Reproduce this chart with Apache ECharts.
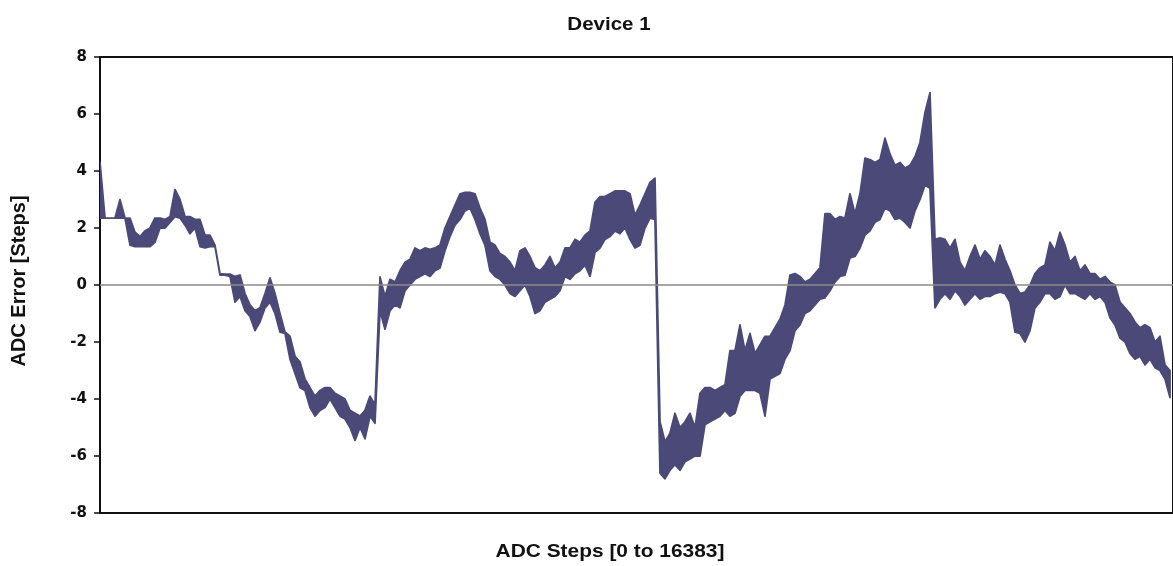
<!DOCTYPE html>
<html>
<head>
<meta charset="utf-8">
<title>Device 1</title>
<script src="https://cdn.jsdelivr.net/npm/echarts@6/dist/echarts.min.js"></script>
<style>
  html, body { margin: 0; padding: 0; background: #ffffff; }
  #chart { width: 1173px; height: 566px; }
</style>
</head>
<body>
<div id="chart"></div>
<script>
// ADC error trace for Device 1, stored as the upper / lower extent of the
// noisy error band at evenly spaced code positions across the full range.
const TITLE = 'Device 1';
const X_NAME = 'ADC Steps [0 to 16383]';
const Y_NAME = 'ADC Error [Steps]';
const CODE_MAX = 16383;
const Y_MIN = -8, Y_MAX = 8, Y_STEP = 2;

// upper edge of the error band (steps)
const ERR_HI = [
  4.3, 2.35, 2.35, 2.35, 3.0, 2.35, 2.35, 1.85, 1.7, 1.9,
  2.0, 2.35, 2.35, 2.3, 2.4, 3.35, 3.0, 2.4, 2.4, 2.3,
  2.3, 1.75, 1.75, 1.4, 0.4, 0.38, 0.38, 0.3, 0.35, -0.3,
  -0.7, -0.9, -0.8, -0.3, 0.25, -0.3, -1.0, -1.65, -1.8, -2.5,
  -2.7, -3.3, -3.6, -3.9, -3.7, -3.6, -3.6, -3.8, -3.9, -4.0,
  -4.4, -4.5, -4.6, -4.4, -3.9, -4.2, 0.28, -0.4, 0.2, 0.1,
  0.5, 0.8, 0.9, 1.3, 1.2, 1.3, 1.25, 1.3, 1.4, 2.0,
  2.4, 2.8, 3.2, 3.25, 3.25, 3.2, 2.7, 2.3, 1.5, 1.4,
  1.1, 1.0, 0.8, 0.5, 1.2, 1.3, 1.0, 0.6, 0.5, 0.7,
  1.0, 0.6, 0.8, 1.3, 1.3, 1.6, 1.5, 1.75, 1.9, 2.9,
  3.1, 3.1, 3.2, 3.3, 3.3, 3.3, 3.2, 2.45, 2.8, 3.2,
  3.6, 3.75, -4.8, -5.5, -5.2, -4.5, -5.0, -4.8, -4.5, -5.0,
  -3.8, -3.6, -3.6, -3.7, -3.6, -3.5, -2.3, -2.3, -1.4, -2.3,
  -1.7, -2.4, -2.1, -1.8, -1.8, -1.5, -1.2, -0.7, 0.35, 0.4,
  0.3, 0.1, 0.2, 0.4, 0.6, 2.5, 2.5, 2.3, 2.4, 2.35,
  3.2, 2.5, 3.2, 4.45, 4.4, 4.3, 4.4, 5.15, 4.6, 4.2,
  4.3, 4.1, 4.2, 4.5, 5.0, 6.05, 6.75, 1.6, 1.65, 1.6,
  1.3, 1.6, 0.8, 0.5, 1.0, 1.4, 0.9, 1.2, 1.0, 0.7,
  1.4, 0.9, 0.5, 0.0, -0.3, -0.25, 0.0, 0.4, 0.6, 0.7,
  1.5, 1.2, 1.85, 1.4, 0.8, 1.0, 0.5, 0.7, 0.4, 0.4,
  0.2, 0.3, 0.1, 0.0, -0.6, -0.8, -1.0, -1.3, -1.5, -1.4,
  -1.5, -2.0, -1.8, -2.8, -3.0
];

// lower edge of the error band (steps)
const ERR_LO = [
  2.35, 2.35, 2.35, 2.35, 2.35, 2.35, 1.4, 1.35, 1.35, 1.35,
  1.35, 1.5, 2.0, 2.0, 2.2, 2.4, 2.35, 2.1, 1.8, 2.0,
  1.35, 1.3, 1.35, 1.35, 0.35, 0.35, 0.3, -0.6, -0.4, -0.9,
  -1.1, -1.6, -1.3, -0.8, -0.6, -1.0, -1.65, -1.7, -2.6, -3.1,
  -3.6, -3.7, -4.3, -4.6, -4.4, -4.3, -4.0, -4.3, -4.6, -4.7,
  -5.0, -5.45, -5.0, -5.4, -4.6, -4.85, -0.9, -1.55, -0.9, -0.7,
  -0.8, -0.2, 0.0, 0.2, 0.3, 0.4, 0.3, 0.5, 0.6, 1.2,
  1.7, 2.1, 2.3, 2.6, 2.7, 2.3, 1.8, 1.4, 0.5, 0.3,
  0.2, 0.0, -0.3, -0.4, -0.2, 0.0, -0.4, -1.0, -0.9, -0.6,
  -0.5, -0.4, -0.2, 0.3, 0.2, 0.4, 0.5, 0.7, 0.3, 1.15,
  1.3, 1.6, 1.7, 1.9, 1.8, 2.0, 1.6, 1.3, 1.4, 2.0,
  2.35, 2.3, -6.6, -6.8, -6.5, -6.3, -6.5, -6.2, -6.1, -6.0,
  -6.0, -4.9, -4.8, -4.7, -4.6, -4.4, -4.6, -4.5, -3.9, -3.7,
  -3.7, -3.7, -3.8, -4.6, -3.3, -3.2, -3.1, -2.6, -2.3, -1.6,
  -1.4, -1.0, -0.9, -0.7, -0.5, -0.45, -0.2, 0.1, 0.3, 0.35,
  0.95, 1.0, 1.3, 1.75, 1.9, 2.2, 2.3, 2.7, 2.6, 2.3,
  2.35, 2.2, 2.0, 2.6, 3.0, 3.5, 3.4, -0.8, -0.5, -0.3,
  -0.5, -0.2, -0.4, -0.7, -0.5, -0.3, -0.5, -0.4, -0.4, -0.3,
  -0.25, -0.3, -0.6, -1.65, -1.7, -2.0, -1.6, -0.8, -0.6, -0.3,
  -0.3, -0.5, -0.4, 0.0, -0.3, -0.3, -0.4, -0.5, -0.3, -0.5,
  -0.4, -0.6, -1.15, -1.4, -1.86, -2.0, -2.4, -2.6, -2.5, -2.8,
  -2.6, -2.9, -3.0, -3.3, -3.95
];

// spacing between band samples, in ADC codes
const SAMPLE_STEP = 76.34;
const codes = ERR_HI.map((_, i) => i * SAMPLE_STEP);

const TRACE_COLOR = '#4b4978';
const FONT = '"Liberation Sans", Arial, Helvetica, sans-serif';
const chart = echarts.init(document.getElementById('chart'), null, { renderer: 'canvas' });

// the band is one closed outline: along the upper edge, back along the lower edge
function renderBand(params, api) {
  if (params.dataIndex !== 0) return null;
  const upper = [], lower = [];
  for (let i = 0; i < codes.length; i++) {
    upper.push(api.coord([codes[i], ERR_HI[i]]));
    lower.push(api.coord([codes[i], ERR_LO[i]]));
  }
  return {
    type: 'polygon',
    shape: { points: upper.concat(lower.reverse()) },
    style: { fill: TRACE_COLOR, stroke: TRACE_COLOR, lineWidth: 1.8, lineJoin: 'round' }
  };
}

chart.setOption({
  animation: false,
  backgroundColor: '#ffffff',
  grid: {
    left: 100, right: -4, top: 57, bottom: 53,
    show: true, borderColor: '#111111', borderWidth: 2, backgroundColor: 'transparent'
  },
  xAxis: {
    type: 'value', min: 0, max: CODE_MAX,
    axisLine: { show: false }, axisTick: { show: false },
    axisLabel: { show: false }, splitLine: { show: false }
  },
  yAxis: {
    type: 'value', min: Y_MIN, max: Y_MAX, interval: Y_STEP,
    axisLine: { show: false },
    axisTick: { show: true, inside: false, length: 6, lineStyle: { color: '#111111', width: 1.5 } },
    axisLabel: { show: true, margin: 13, color: '#111111', fontFamily: '"DejaVu Sans", sans-serif', fontWeight: 'bold', fontSize: 15 },
    splitLine: { show: false }
  },
  graphic: [
    { type: 'text', x: 609, y: 25, scaleX: 1.14, silent: true,
      style: { text: TITLE, font: 'bold 18px ' + FONT, fill: '#111111', textAlign: 'center', textVerticalAlign: 'middle' } },
    { type: 'text', x: 610, y: 552, scaleX: 1.1, silent: true,
      style: { text: X_NAME, font: 'bold 19px ' + FONT, fill: '#111111', textAlign: 'center', textVerticalAlign: 'middle' } },
    { type: 'text', x: 19, y: 281, rotation: Math.PI / 2, silent: true,
      style: { text: Y_NAME, font: 'bold 20px ' + FONT, fill: '#111111', textAlign: 'center', textVerticalAlign: 'middle' } }
  ],
  series: [
    {
      type: 'line', data: [], z: 1, silent: true,
      markLine: {
        silent: true, symbol: 'none', label: { show: false },
        lineStyle: { color: '#8a8a8a', width: 1.5, type: 'solid' },
        data: [{ yAxis: 0 }]
      }
    },
    {
      type: 'custom', z: 2, silent: true, clip: true,
      data: [[0, 0]],
      renderItem: renderBand
    }
  ]
});
</script>
</body>
</html>
